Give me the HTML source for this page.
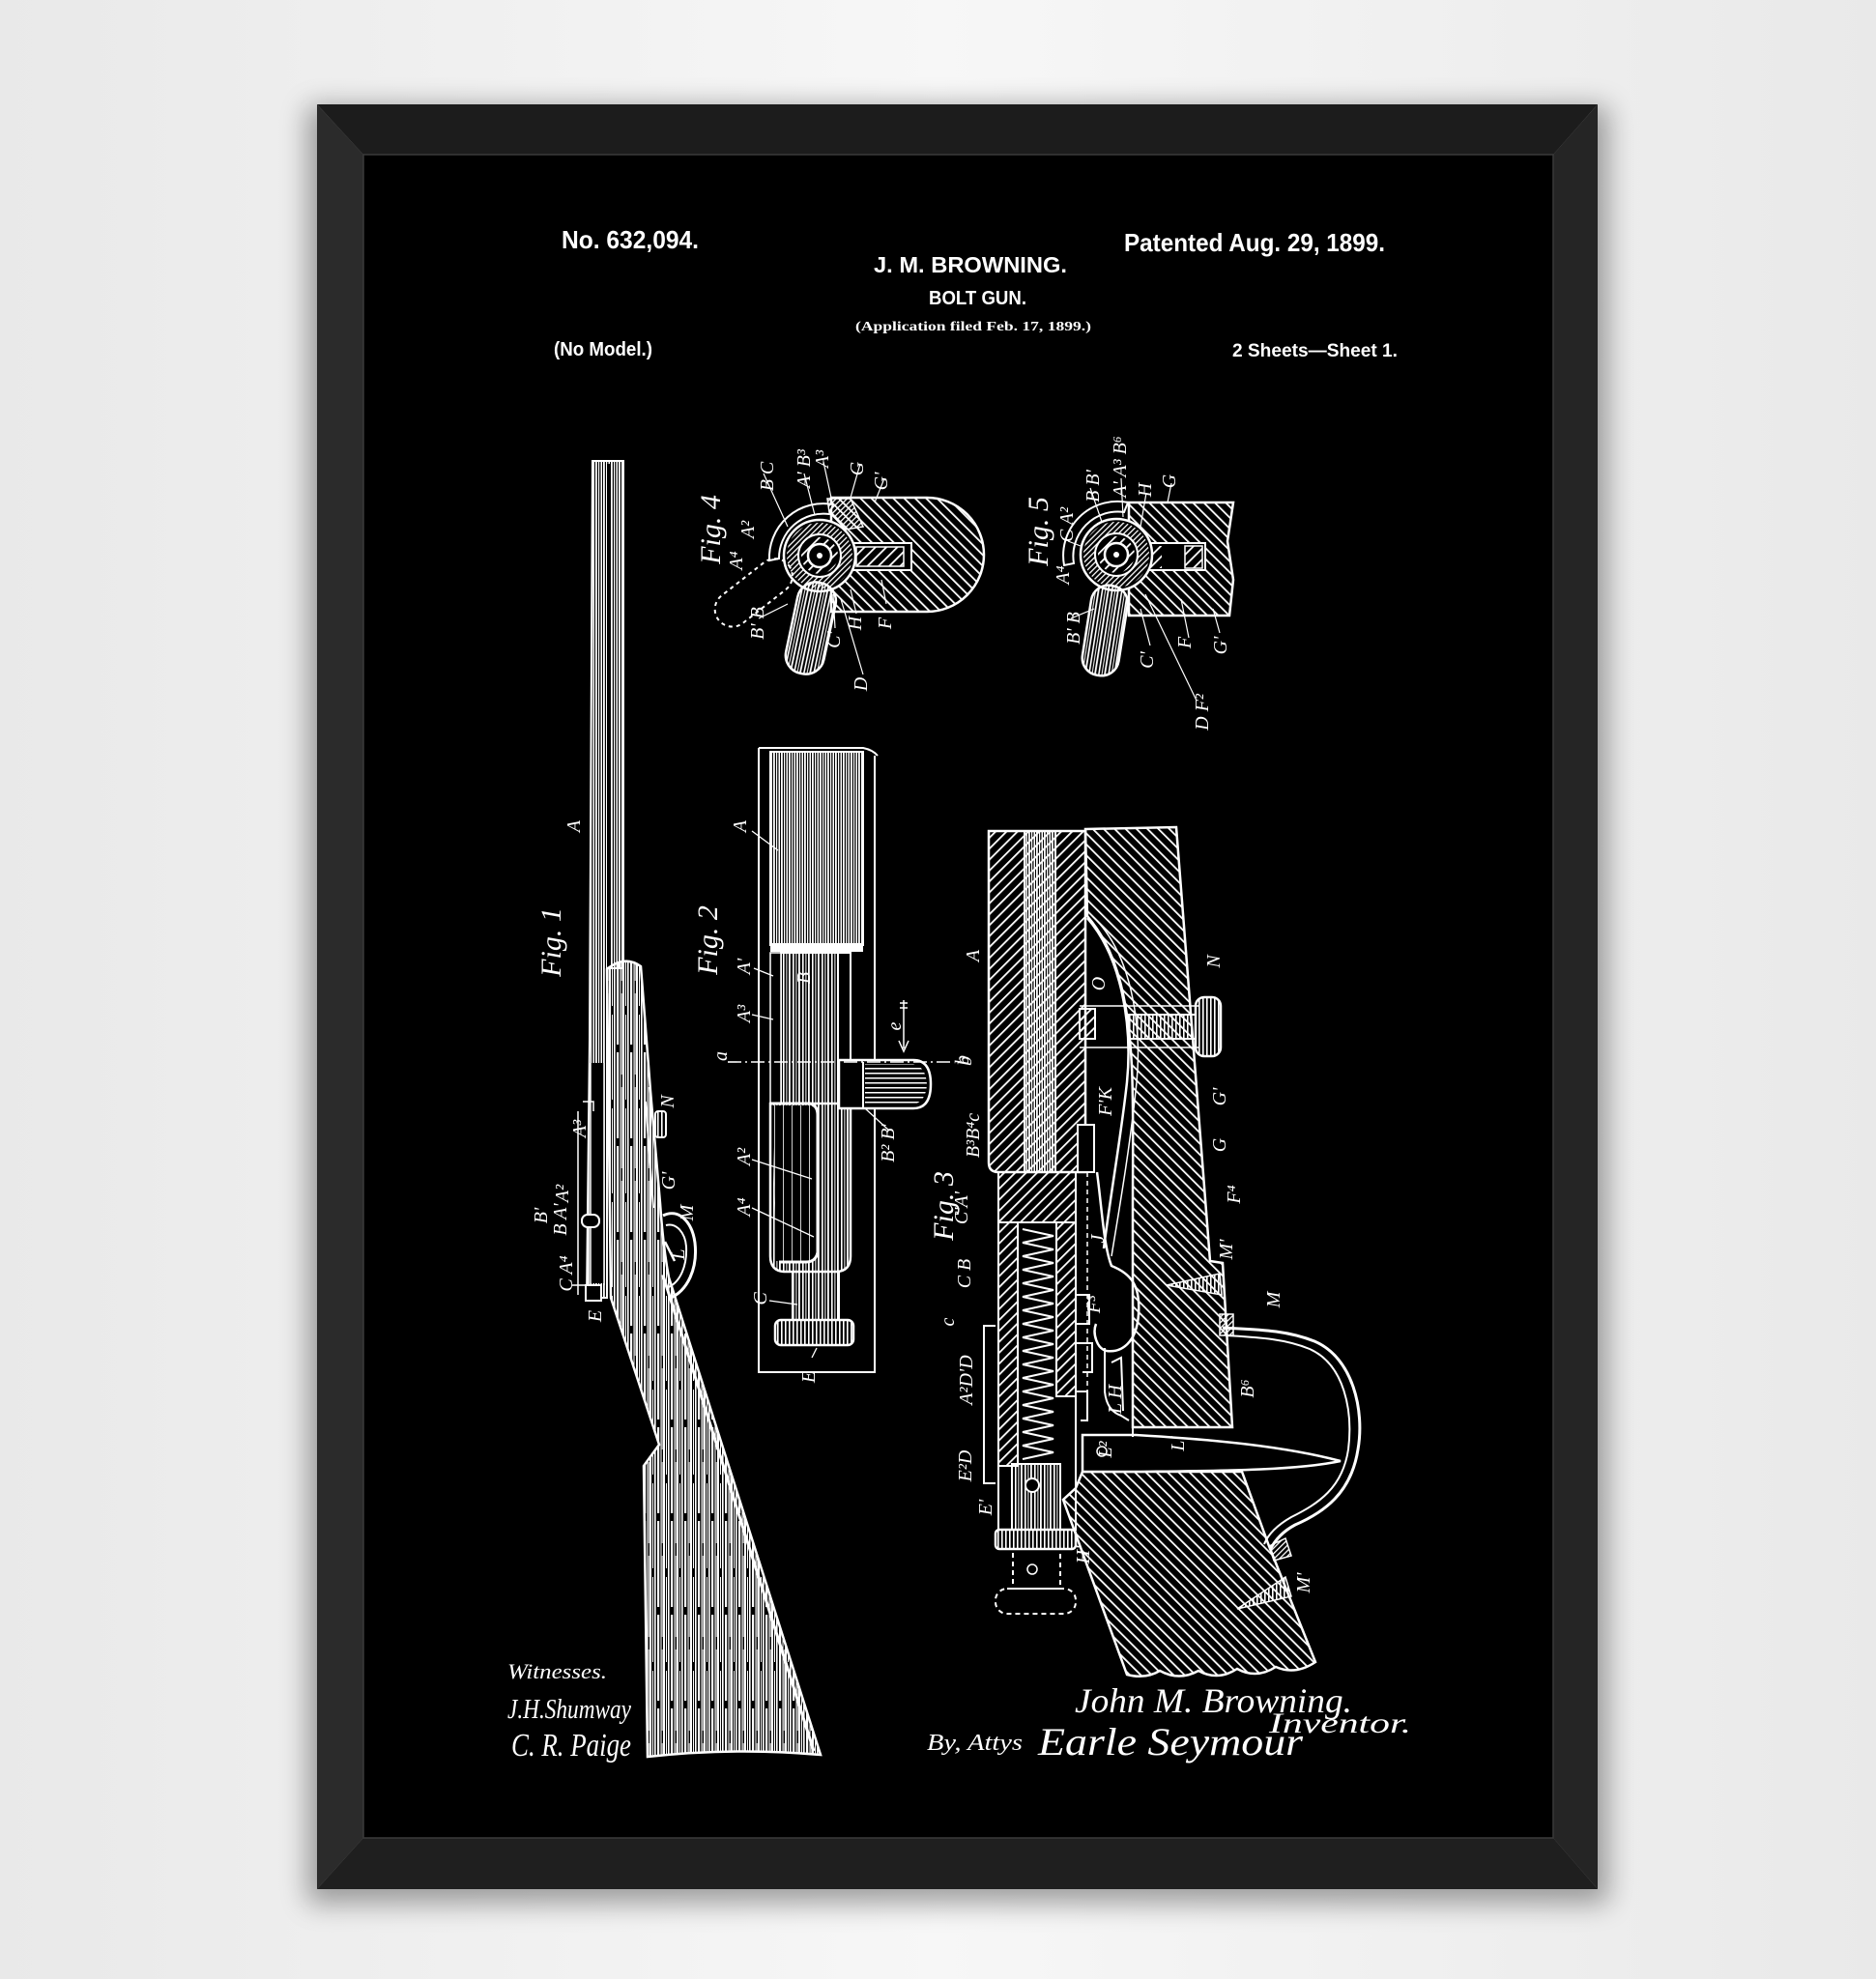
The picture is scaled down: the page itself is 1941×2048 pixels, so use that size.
<!DOCTYPE html>
<html><head><meta charset="utf-8"><style>
html,body{margin:0;padding:0;background:#efefef;}
svg{display:block}
.lb{font-family:"Liberation Serif",serif;font-style:italic;fill:#fff;font-size:20px;text-anchor:middle}
.fg{font-family:"Liberation Serif",serif;font-style:italic;fill:#fff;font-size:30px;text-anchor:middle}
.hd{font-family:"Liberation Sans",sans-serif;font-weight:bold;fill:#fff}
.sg{font-family:"Liberation Serif",serif;font-style:italic;fill:#fff}
.w{stroke:#fff;fill:none}
</style></head><body>
<svg width="1941" height="2048" viewBox="0 0 1941 2048" xmlns="http://www.w3.org/2000/svg">
<defs>
 <filter id="blur" x="-10%" y="-10%" width="120%" height="120%"><feGaussianBlur stdDeviation="14"/></filter>
 <linearGradient id="bgg" x1="0" y1="0" x2="1" y2="0">
  <stop offset="0" stop-color="#e9e9e9"/><stop offset="0.5" stop-color="#f7f7f7"/><stop offset="1" stop-color="#e9e9e9"/>
 </linearGradient>
 <pattern id="vl" width="10" height="10" patternUnits="userSpaceOnUse">
  <rect x="0" width="1.6" height="10" fill="#fff"/><rect x="3.4" width="1" height="10" fill="#fff"/><rect x="6" width="1.8" height="10" fill="#fff"/>
 </pattern>
 <pattern id="vlb" width="8" height="10" patternUnits="userSpaceOnUse">
  <rect x="0" width="1.8" height="10" fill="#fff"/><rect x="3" width="1.2" height="10" fill="#fff"/><rect x="5.5" width="1.5" height="10" fill="#fff"/>
 </pattern>
 <pattern id="wood" width="14" height="97" patternUnits="userSpaceOnUse">
  <rect x="0" width="2" height="97" fill="#fff"/>
  <rect x="3" y="0" width="1" height="71" fill="#fff"/><rect x="3" y="80" width="1" height="17" fill="#fff"/>
  <rect x="5" width="1.6" height="97" fill="#fff"/>
  <rect x="8" y="22" width="2.2" height="75" fill="#fff"/><rect x="8" y="0" width="2.2" height="14" fill="#fff"/>
  <rect x="11.5" width="1" height="97" fill="#fff"/>
  <rect x="12.8" y="0" width="0.8" height="45" fill="#fff"/><rect x="12.8" y="58" width="0.8" height="39" fill="#fff"/>
 </pattern>
 <pattern id="vsp" width="9" height="10" patternUnits="userSpaceOnUse">
  <rect x="0" width="1" height="10" fill="#fff"/>
 </pattern>
 <pattern id="hd" width="8" height="8" patternUnits="userSpaceOnUse" patternTransform="rotate(-45)">
  <rect width="1.8" height="8" fill="#fff"/>
 </pattern>
 <pattern id="hs" width="8" height="8" patternUnits="userSpaceOnUse" patternTransform="rotate(45)">
  <rect width="1.8" height="8" fill="#fff"/>
 </pattern>
 <pattern id="hf" width="4" height="4" patternUnits="userSpaceOnUse" patternTransform="rotate(45)">
  <rect width="1.3" height="4" fill="#fff"/>
 </pattern>
 <pattern id="hl" width="10" height="5" patternUnits="userSpaceOnUse">
  <rect width="10" height="1.5" fill="#fff"/>
 </pattern>
 <pattern id="kn" width="4" height="4" patternUnits="userSpaceOnUse">
  <rect width="1.6" height="4" fill="#fff"/>
 </pattern>
</defs>

<!-- background -->
<rect x="0" y="0" width="1941" height="2048" fill="url(#bgg)"/>
<rect x="318" y="110" width="1346" height="1860" fill="#000" opacity="0.35" filter="url(#blur)"/>

<!-- frame -->
<polygon points="328,108 1653,108 1607,160 376,160" fill="#1c1c1c"/>
<polygon points="328,108 376,160 376,1902 328,1955" fill="#2b2b2b"/>
<polygon points="1653,108 1653,1955 1607,1902 1607,160" fill="#252525"/>
<polygon points="328,1955 376,1902 1607,1902 1653,1955" fill="#1f1f1f"/>
<rect x="376" y="160" width="1231" height="1742" fill="#000" stroke="#3a3a3a" stroke-width="1.5"/>

<!-- header -->
<text class="hd" x="581" y="257" font-size="26" textLength="142" lengthAdjust="spacingAndGlyphs">No. 632,094.</text>
<text class="hd" x="904" y="282" font-size="23" textLength="200" lengthAdjust="spacingAndGlyphs">J. M. BROWNING.</text>
<text class="hd" x="961" y="315" font-size="20" textLength="101" lengthAdjust="spacingAndGlyphs">BOLT GUN.</text>
<text x="885" y="342" font-family="Liberation Serif, serif" font-weight="bold" font-size="14" fill="#fff" textLength="244" lengthAdjust="spacingAndGlyphs">(Application filed Feb. 17, 1899.)</text>
<text class="hd" x="1163" y="260" font-size="26" textLength="270" lengthAdjust="spacingAndGlyphs">Patented Aug. 29, 1899.</text>
<text class="hd" x="573" y="368" font-size="20" textLength="102" lengthAdjust="spacingAndGlyphs">(No Model.)</text>
<text class="hd" x="1275" y="369" font-size="19" textLength="171" lengthAdjust="spacingAndGlyphs">2 Sheets—Sheet 1.</text>

<!-- ================= FIG 1 rifle ================= -->
<path d="M613,477 L645,477 L645,1002 L628,1002 L628,1343 L607,1343 L610,1075 Z" fill="url(#vlb)" stroke="#fff" stroke-width="2"/>
<line x1="630" y1="480" x2="630" y2="1000" stroke="#000" stroke-width="4"/>
<rect x="611" y="1100" width="14" height="228" fill="#000"/>
<path d="M611,1100 L611,1330 M625,1100 L625,1330" class="w" stroke-width="1.5"/>
<path d="M628,1003 Q646,988 663,1000 L673,1129 L683,1245 Q686,1290 692,1322 L849,1816 Q760,1808 670,1818 L666,1517 L682,1495 L632,1343 Z" fill="url(#wood)" stroke="#fff" stroke-width="2.5"/>
<path d="M686,1320 L842,1812" class="w" stroke-width="3"/>
<path d="M668,1140 L676,1250" class="w" stroke-width="2"/>
<path d="M686,1258 C702,1250 716,1264 719,1286 C722,1312 712,1336 692,1344" class="w" stroke-width="3"/>
<path d="M689,1268 C700,1265 709,1276 710,1290 C711,1310 704,1326 692,1332" class="w" stroke-width="2"/>
<path d="M688,1285 L698,1305" class="w" stroke-width="2.5"/>
<rect x="678" y="1150" width="11" height="27" rx="3" fill="url(#kn)" stroke="#fff" stroke-width="2"/>
<rect x="602" y="1257" width="18" height="13" rx="6" fill="#000" stroke="#fff" stroke-width="2"/>
<rect x="606" y="1330" width="16" height="16" fill="#000" stroke="#fff" stroke-width="2"/>
<path d="M598,1150 L598,1340 M592,1330 L612,1330" class="w" stroke-width="1.5"/>
<path d="M603,1140 L614,1140 L614,1150" class="w" stroke-width="1.5"/>

<!-- ================= FIG 2 bolt ================= -->
<path d="M785,774 L893,774 Q903,776 908,782 M785,774 L785,1420 L906,1420 M905,782 L905,1420" class="w" stroke-width="2"/>
<rect x="797" y="778" width="96" height="200" fill="url(#vlb)" stroke="#fff" stroke-width="2"/>
<rect x="797" y="976" width="96" height="9" fill="#fff"/>
<rect x="808" y="986" width="59" height="156" fill="url(#vl)" stroke="#fff" stroke-width="2"/>
<rect x="867" y="986" width="13" height="111" fill="#000" stroke="#fff" stroke-width="2"/>
<rect x="797" y="986" width="11" height="156" fill="#000" stroke="#fff" stroke-width="1.5"/>
<path d="M797,1142 L880,1142 L880,1300 Q880,1315 866,1316 L811,1316 Q797,1315 797,1300 Z" fill="url(#vl)" stroke="#fff" stroke-width="2.5"/>
<path d="M799,1144 L838,1144 Q845,1146 845,1154 L845,1296 Q843,1305 834,1305 L803,1305 Z" fill="#000"/>
<path d="M799,1144 L838,1144 Q845,1146 845,1154 L845,1296 Q843,1305 834,1305 L803,1305 Z" fill="url(#vsp)" opacity="0.8"/>
<path d="M797,1142 L838,1142 Q846,1144 846,1154 L846,1296 Q844,1306 834,1306 L806,1306" class="w" stroke-width="3"/>
<rect x="820" y="1316" width="48" height="50" fill="url(#vl)" stroke="#fff" stroke-width="2"/>
<rect x="802" y="1366" width="81" height="26" rx="6" fill="url(#kn)" stroke="#fff" stroke-width="2.5"/>
<path d="M868,1097 L945,1097 Q963,1097 963,1122 Q963,1147 945,1147 L868,1147 Z" fill="#000" stroke="#fff" stroke-width="2.5"/>
<path d="M895,1101 L945,1101 Q958,1104 959,1122 Q958,1140 945,1143 L895,1143 Z" fill="url(#hl)"/>
<path d="M893,1099 L893,1147" class="w" stroke-width="2"/>
<line x1="753" y1="1099" x2="987" y2="1099" stroke="#fff" stroke-width="1.6" stroke-dasharray="14 4 2 4"/>
<path d="M935,1035 L935,1085 M930,1077 L935,1088 L940,1077 M931,1038 L939,1038 M931,1043 L939,1043" class="w" stroke-width="1.5"/>
<path d="M778,860 L805,880 M780,1002 L800,1010 M778,1050 L800,1055 M778,1200 L840,1220 M778,1250 L842,1280 M796,1346 L825,1350 M840,1405 L845,1395 M920,1170 L895,1147" class="w" stroke-width="1.3"/>

<!-- ================= FIG 3 section ================= -->
<path d="M1023,860 L1123,860 L1123,1213 L1033,1213 Q1023,1213 1023,1203 Z" fill="url(#hs)" stroke="#fff" stroke-width="2.5"/>
<rect x="1060" y="860" width="32" height="353" fill="url(#vlb)" stroke="#fff" stroke-width="2"/>
<path d="M1123,858 L1217,856 L1252,1305 L1265,1307 L1275,1477 L1172,1477 L1172,1250 C1172,1150 1175,1080 1160,1020 C1150,980 1135,960 1125,948 Z" fill="url(#hd)" stroke="#fff" stroke-width="2.5"/>
<path d="M1125,950 C1160,990 1172,1060 1166,1120 C1160,1175 1150,1230 1142,1292" class="w" stroke-width="2.5"/>
<path d="M1130,948 C1170,985 1182,1060 1176,1120 C1170,1180 1160,1240 1150,1300" class="w" stroke-width="1.5"/>
<path d="M1117,1041 L1240,1041 M1117,1084 L1240,1084" class="w" stroke-width="1.5"/>
<rect x="1117" y="1044" width="16" height="31" fill="url(#hs)" stroke="#fff" stroke-width="2"/>
<rect x="1167" y="1050" width="70" height="25" fill="url(#kn)" stroke="#fff" stroke-width="2"/>
<rect x="1237" y="1032" width="26" height="61" rx="9" fill="url(#kn)" stroke="#fff" stroke-width="2.5"/>
<rect x="1115" y="1164" width="17" height="49" fill="#000" stroke="#fff" stroke-width="2"/>
<line x1="1125" y1="1213" x2="1125" y2="1443" stroke="#fff" stroke-width="1.5" stroke-dasharray="5 4"/>
<path d="M1135,1213 C1140,1250 1142,1290 1150,1310 C1170,1318 1180,1330 1178,1360 C1176,1390 1160,1400 1145,1398 C1135,1396 1130,1380 1134,1370" class="w" stroke-width="2.5"/>
<path d="M1143,1395 L1143,1440 Q1145,1460 1160,1465 L1168,1470 M1150,1410 L1160,1405 L1162,1460" class="w" stroke-width="2"/>
<path d="M1113,1340 L1127,1340 L1127,1370 L1113,1370 M1113,1390 L1130,1390 L1130,1420 L1120,1420 M1113,1440 L1125,1440 L1125,1470 L1118,1470" class="w" stroke-width="2"/>
<rect x="1033" y="1213" width="80" height="52" fill="url(#hs)" stroke="#fff" stroke-width="2"/>
<rect x="1033" y="1265" width="20" height="252" fill="url(#hs)" stroke="#fff" stroke-width="2"/>
<rect x="1093" y="1265" width="20" height="180" fill="url(#hs)" stroke="#fff" stroke-width="2"/>
<polyline class="w" stroke-width="2" points="1058,1272 1090,1279 1058,1286 1090,1293 1058,1300 1090,1307 1058,1314 1090,1321 1058,1328 1090,1335 1058,1342 1090,1349 1058,1356 1090,1363 1058,1370 1090,1377 1058,1384 1090,1391 1058,1398 1090,1405 1058,1412 1090,1419 1058,1426 1090,1433 1058,1440 1090,1447 1058,1454 1090,1461 1058,1468 1090,1475 1058,1482 1090,1489 1058,1496 1090,1503 1058,1510"/>
<rect x="1047" y="1515" width="50" height="68" fill="url(#vl)" stroke="#fff" stroke-width="2"/>
<rect x="1033" y="1213" width="80" height="370" class="w" stroke-width="2"/>
<circle cx="1068" cy="1537" r="7" fill="#000" stroke="#fff" stroke-width="2"/>
<rect x="1030" y="1583" width="83" height="20" rx="4" fill="url(#kn)" stroke="#fff" stroke-width="2.5"/>
<rect x="1048" y="1603" width="49" height="41" fill="none" stroke="#fff" stroke-width="2" stroke-dasharray="5 4"/>
<circle cx="1068" cy="1624" r="5" fill="none" stroke="#fff" stroke-width="1.5"/>
<rect x="1030" y="1644" width="83" height="26" rx="12" fill="none" stroke="#fff" stroke-width="2" stroke-dasharray="5 4"/>
<path d="M1030,1372 L1018,1372 L1018,1535 L1030,1535" class="w" stroke-width="2"/>
<path d="M1120,1523 L1285,1523 L1313,1600 L1361,1720 Q1340,1734 1320,1725 Q1300,1738 1280,1727 Q1260,1740 1240,1729 Q1220,1740 1200,1729 Q1185,1738 1166,1733 L1100,1552 L1113,1540 Z" fill="url(#hd)" stroke="#fff" stroke-width="2.5"/>
<path d="M1120,1485 L1175,1485 C1260,1490 1330,1497 1387,1512 C1340,1522 1260,1522 1175,1523 L1120,1523 Z" fill="#000" stroke="#fff" stroke-width="2.5"/>
<path d="M1172,1477 L1172,1487" class="w" stroke-width="2"/>
<circle cx="1140" cy="1502" r="5" fill="none" stroke="#fff" stroke-width="1.5"/>
<path d="M1265,1374 C1300,1376 1330,1376 1360,1388 C1400,1405 1412,1460 1405,1500 C1398,1545 1370,1565 1340,1578 C1325,1586 1318,1596 1314,1604" class="w" stroke-width="3"/>
<path d="M1268,1382 C1300,1384 1328,1385 1355,1396 C1391,1412 1400,1460 1395,1500 C1389,1540 1364,1556 1336,1570 C1322,1578 1312,1588 1308,1598" class="w" stroke-width="2"/>
<polygon points="1262,1360 1276,1360 1276,1382 1262,1382" fill="url(#hf)" stroke="#fff" stroke-width="1.5"/>
<polygon points="1207,1330 1262,1318 1264,1340" fill="url(#kn)" stroke="#fff" stroke-width="1.5"/>
<polygon points="1280,1665 1330,1632 1336,1652" fill="url(#kn)" stroke="#fff" stroke-width="1.5"/>
<polygon points="1313,1600 1330,1592 1336,1610 1318,1615" fill="url(#hf)" stroke="#fff" stroke-width="1.5"/>

<!-- ================= FIG 4 ================= -->
<path d="M860,515 L959,515 A59,59 0 0 1 959,633 L860,633 Z" fill="url(#hd)" stroke="#fff" stroke-width="2.5"/>
<rect x="870" y="562" width="73" height="28" fill="#000" stroke="#fff" stroke-width="2"/>
<rect x="886" y="566" width="49" height="20" fill="url(#hs)" stroke="#fff" stroke-width="1.5"/>
<path d="M796,580 A56,56 0 0 1 862,522 L858,532 A46,46 0 0 0 806,578 Z" fill="#000" stroke="#fff" stroke-width="2"/>
<polygon points="856,516 880,516 893,545 875,548 858,530" fill="url(#hf)" stroke="#fff" stroke-width="1.5"/>
<circle cx="848" cy="575" r="37" fill="#000" stroke="#fff" stroke-width="2.5"/>
<circle cx="848" cy="575" r="34" fill="url(#hf)"/>
<circle cx="848" cy="575" r="22" fill="#000" stroke="#fff" stroke-width="2"/>
<circle cx="848" cy="575" r="19" fill="url(#hs)"/>
<circle cx="848" cy="575" r="12" fill="#000" stroke="#fff" stroke-width="2.5"/>
<circle cx="848" cy="575" r="3" fill="#fff"/>
<g transform="rotate(12 848 607)">
 <rect x="828" y="603" width="40" height="96" rx="19" fill="url(#vl)" stroke="#fff" stroke-width="2.5"/>
</g>
<g transform="rotate(52 816 585)">
 <rect x="798" y="585" width="36" height="92" rx="18" fill="none" stroke="#fff" stroke-width="2" stroke-dasharray="4 4"/>
</g>

<!-- ================= FIG 5 ================= -->
<path d="M1160,520 L1276,520 L1270,560 L1276,600 L1272,637 L1168,637 L1168,520" fill="url(#hd)" stroke="#fff" stroke-width="2.5"/>
<rect x="1176" y="562" width="71" height="28" fill="#000" stroke="#fff" stroke-width="2"/>
<rect x="1178" y="565" width="24" height="23" fill="url(#hs)"/>
<rect x="1226" y="565" width="18" height="23" fill="url(#hs)" stroke="#fff" stroke-width="1.5"/>
<path d="M1101,585 A56,56 0 0 1 1167,520 L1163,530 A46,46 0 0 0 1111,583 Z" fill="#000" stroke="#fff" stroke-width="2"/>
<circle cx="1155" cy="574" r="37" fill="#000" stroke="#fff" stroke-width="2.5"/>
<circle cx="1155" cy="574" r="34" fill="url(#hf)"/>
<circle cx="1155" cy="574" r="22" fill="#000" stroke="#fff" stroke-width="2"/>
<circle cx="1155" cy="574" r="19" fill="url(#hs)"/>
<circle cx="1155" cy="574" r="12" fill="#000" stroke="#fff" stroke-width="2.5"/>
<circle cx="1155" cy="574" r="3" fill="#fff"/>
<g transform="rotate(9 1150 610)">
 <rect x="1131" y="606" width="38" height="94" rx="18" fill="url(#vl)" stroke="#fff" stroke-width="2.5"/>
</g>

<path d="M790,490 L815,545 M832,490 L843,533 M852,478 L860,515 M890,480 L880,515 M915,495 L905,520 M785,640 L815,625 M864,650 L862,615 M886,635 L880,610 M917,625 L912,600 M893,698 L870,620 M1128,505 L1140,540 M1160,495 L1162,535 M1186,510 L1180,545 M1212,500 L1208,520 M1105,560 L1118,565 M1108,640 L1132,630 M1190,668 L1180,630 M1230,660 L1222,620 M1238,725 L1185,615 M1262,655 L1255,630" class="w" stroke-width="1.2"/>

<!-- ================= labels ================= -->
<g>
<text class="fg" transform="translate(580,975) rotate(-90)">Fig. 1</text>
<text class="lb" transform="translate(600,855) rotate(-90)">A</text>
<text class="lb" transform="translate(697,1140) rotate(-90)">N</text>
<text class="lb" transform="translate(606,1168) rotate(-90)">A³</text>
<text class="lb" transform="translate(588,1235) rotate(-90)">A²</text>
<text class="lb" transform="translate(566,1258) rotate(-90)">B'</text>
<text class="lb" transform="translate(586,1262) rotate(-90)">B A'</text>
<text class="lb" transform="translate(698,1222) rotate(-90)">G'</text>
<text class="lb" transform="translate(717,1255) rotate(-90)">M</text>
<text class="lb" transform="translate(708,1298) rotate(-90)">L</text>
<text class="lb" transform="translate(592,1318) rotate(-90)">C A⁴</text>
<text class="lb" transform="translate(622,1362) rotate(-90)">E</text>
<text class="fg" transform="translate(742,973) rotate(-90)">Fig. 2</text>
<text class="lb" transform="translate(772,855) rotate(-90)">A</text>
<text class="lb" transform="translate(776,1000) rotate(-90)">A'</text>
<text class="lb" transform="translate(776,1049) rotate(-90)">A³</text>
<text class="lb" transform="translate(752,1093) rotate(-90)">a</text>
<text class="lb" transform="translate(1002,1097) rotate(-90)">b</text>
<text class="lb" transform="translate(838,1012) rotate(-90)">B</text>
<text class="lb" transform="translate(925,1183) rotate(-90)">B² B'</text>
<text class="lb" transform="translate(776,1197) rotate(-90)">A²</text>
<text class="lb" transform="translate(776,1249) rotate(-90)">A⁴</text>
<text class="lb" transform="translate(793,1344) rotate(-90)">C</text>
<text class="lb" transform="translate(843,1425) rotate(-90)">E</text>
<text class="lb" transform="translate(932,1062) rotate(-90)">e</text>
<text class="fg" transform="translate(986,1248) rotate(-90)">Fig. 3</text>
<text class="lb" transform="translate(1013,989) rotate(-90)">A</text>
<text class="lb" transform="translate(1005,1098) rotate(-90)">b</text>
<text class="lb" transform="translate(1013,1175) rotate(-90)">B³B⁴c</text>
<text class="lb" transform="translate(1001,1250) rotate(-90)">C'A'</text>
<text class="lb" transform="translate(1004,1318) rotate(-90)">C B</text>
<text class="lb" transform="translate(987,1368) rotate(-90)">c</text>
<text class="lb" transform="translate(1006,1428) rotate(-90)">A²D'D</text>
<text class="lb" transform="translate(1005,1517) rotate(-90)">E²D</text>
<text class="lb" transform="translate(1026,1560) rotate(-90)">E'</text>
<text class="lb" transform="translate(1262,995) rotate(-90)">N</text>
<text class="lb" transform="translate(1143,1018) rotate(-90)">O</text>
<text class="lb" transform="translate(1268,1135) rotate(-90)">G'</text>
<text class="lb" transform="translate(1268,1185) rotate(-90)">G</text>
<text class="lb" transform="translate(1150,1140) rotate(-90)">F'K</text>
<text class="lb" transform="translate(1283,1236) rotate(-90)">F⁴</text>
<text class="lb" transform="translate(1275,1293) rotate(-90)">M'</text>
<text class="lb" transform="translate(1324,1345) rotate(-90)">M</text>
<text class="lb" transform="translate(1297,1437) rotate(-90)">B⁶</text>
<text class="lb" transform="translate(1355,1638) rotate(-90)">M'</text>
<text class="lb" transform="translate(1127,1609) rotate(-90)">H'</text>
<text class="lb" transform="translate(1225,1494) rotate(-90)">L'</text>
<text class="lb" transform="translate(1150,1500) rotate(-90)">L²</text>
<text class="lb" transform="translate(1160,1448) rotate(-90)">L H</text>
<text class="lb" transform="translate(1142,1282) rotate(-90)">J</text>
<text class="lb" transform="translate(1138,1350) rotate(-90)">F³</text>
<text class="fg" transform="translate(745,548) rotate(-90)">Fig. 4</text>
<text class="lb" transform="translate(768,580) rotate(-90)">A⁴</text>
<text class="lb" transform="translate(780,548) rotate(-90)">A²</text>
<text class="lb" transform="translate(800,493) rotate(-90)">B C</text>
<text class="lb" transform="translate(838,485) rotate(-90)">A' B³</text>
<text class="lb" transform="translate(857,475) rotate(-90)">A³</text>
<text class="lb" transform="translate(893,485) rotate(-90)">G</text>
<text class="lb" transform="translate(918,498) rotate(-90)">G'</text>
<text class="lb" transform="translate(790,645) rotate(-90)">B' B</text>
<text class="lb" transform="translate(869,662) rotate(-90)">C'</text>
<text class="lb" transform="translate(891,645) rotate(-90)">H</text>
<text class="lb" transform="translate(922,645) rotate(-90)">F</text>
<text class="lb" transform="translate(897,708) rotate(-90)">D</text>
<text class="fg" transform="translate(1084,550) rotate(-90)">Fig. 5</text>
<text class="lb" transform="translate(1110,543) rotate(-90)">C A²</text>
<text class="lb" transform="translate(1137,503) rotate(-90)">B B'</text>
<text class="lb" transform="translate(1165,483) rotate(-90)">A' A³ B⁶</text>
<text class="lb" transform="translate(1191,507) rotate(-90)">H</text>
<text class="lb" transform="translate(1216,498) rotate(-90)">G</text>
<text class="lb" transform="translate(1106,595) rotate(-90)">A⁴</text>
<text class="lb" transform="translate(1117,650) rotate(-90)">B' B</text>
<text class="lb" transform="translate(1193,683) rotate(-90)">C'</text>
<text class="lb" transform="translate(1232,665) rotate(-90)">F</text>
<text class="lb" transform="translate(1250,737) rotate(-90)">D F²</text>
<text class="lb" transform="translate(1269,668) rotate(-90)">G'</text>
</g>

<!-- signatures -->
<text class="sg" x="525" y="1737" font-size="22" textLength="103" lengthAdjust="spacingAndGlyphs">Witnesses.</text>
<text class="sg" x="525" y="1778" font-size="28" textLength="128" lengthAdjust="spacingAndGlyphs">J.H.Shumway</text>
<text class="sg" x="529" y="1817" font-size="34" textLength="124" lengthAdjust="spacingAndGlyphs">C. R. Paige</text>
<text class="sg" x="1112" y="1772" font-size="36" textLength="287" lengthAdjust="spacingAndGlyphs">John M. Browning.</text>
<text class="sg" x="1313" y="1793" font-size="30" textLength="147" lengthAdjust="spacingAndGlyphs">Inventor.</text>
<text class="sg" x="959" y="1811" font-size="24" textLength="99" lengthAdjust="spacingAndGlyphs">By, Attys</text>
<text class="sg" x="1074" y="1816" font-size="40" textLength="274" lengthAdjust="spacingAndGlyphs">Earle Seymour</text>
</svg>
</body></html>
